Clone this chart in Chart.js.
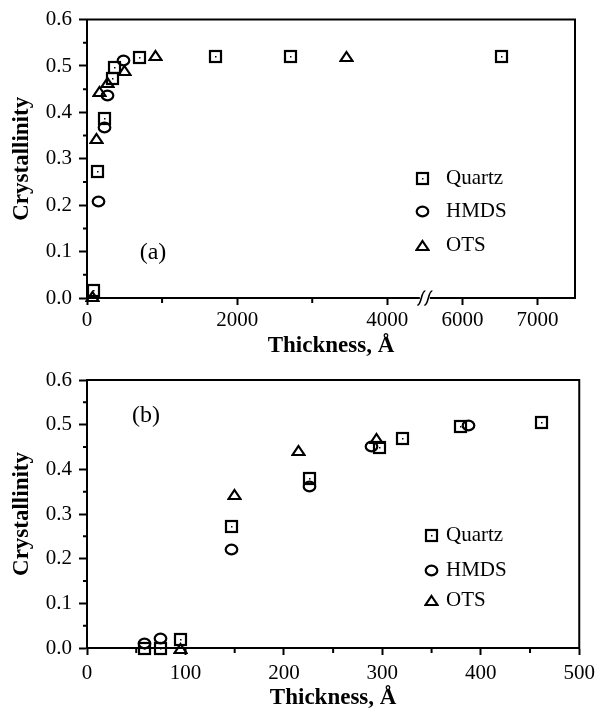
<!DOCTYPE html>
<html>
<head>
<meta charset="utf-8">
<script src="https://cdn.jsdelivr.net/npm/chart.js@4.4.0/dist/chart.umd.min.js"></script>
<style>
  body { margin: 0; background: #fff; }
  #wrap { position: relative; width: 601px; height: 710px; }
  canvas { position: absolute; left: 0; }
</style>
</head>
<body>
<div id="wrap">
  <canvas id="chartA" width="601" height="360" style="top:0"></canvas>
  <canvas id="chartB" width="601" height="355" style="top:355px"></canvas>
</div>
<script>
// panel (a) - full thickness range, values in Å
const quartzAX = [88, 141, 231, 341, 364, 697, 1711, 2711, 6520];
const quartzAY = [0.017, 0.272, 0.386, 0.472, 0.497, 0.519, 0.521, 0.52, 0.52];
const hmdsAX = [151, 231, 275, 488];
const hmdsAY = [0.207, 0.368, 0.437, 0.512];
const otsAX = [75, 120, 164, 275, 497, 907, 3453];
const otsAY = [0.003, 0.343, 0.444, 0.465, 0.49, 0.523, 0.52];

// panel (b) - first 500 Å
const quartzBX = [58, 75, 95, 147, 226, 297, 320, 379, 462];
const quartzBY = [0.0, 0.0, 0.02, 0.272, 0.38, 0.45, 0.47, 0.497, 0.505];
const hmdsBX = [58, 75, 147, 226, 289, 388];
const hmdsBY = [0.011, 0.021, 0.221, 0.362, 0.451, 0.498];
const otsBX = [95, 150, 215, 294];
const otsBY = [0.0, 0.343, 0.443, 0.468];

const seriesNames = ['Quartz', 'HMDS', 'OTS'];

const yTicks = [0, 0.1, 0.2, 0.3, 0.4, 0.5, 0.6];
const yMinor = [0.05, 0.15, 0.25, 0.35, 0.45, 0.55];
const xTicksA = [0, 2000, 4000, 6000, 7000];
const xMinorA = [1000, 3000];
const xTicksB = [0, 100, 200, 300, 400, 500];
const xMinorB = [50, 150, 250, 350, 450];

// broken x axis in panel (a): 4500..5500 is cut out
const BREAK_AT = 4500;
const BREAK_GAP = 1000;
const compress = v => (v > BREAK_AT ? v - BREAK_GAP : v);
const expand = v => (v > BREAK_AT ? v + BREAK_GAP : v);

const serif = '"Liberation Serif", "Times New Roman", serif';

function makeMarker(type) {
  const c = document.createElement('canvas');
  c.width = 15; c.height = 15;
  const g = c.getContext('2d');
  g.strokeStyle = '#000'; g.fillStyle = '#000'; g.lineWidth = 2.2;
  if (type === 'square') {
    g.strokeRect(2, 2, 11, 11);
    g.fillRect(7, 7, 1.5, 1.5);
  } else if (type === 'circle') {
    g.beginPath(); g.ellipse(7.5, 7.5, 5.8, 4.8, 0, 0, Math.PI * 2); g.stroke();
  } else {
    g.beginPath(); g.moveTo(7.5, 3); g.lineTo(13.5, 12); g.lineTo(1.5, 12); g.closePath(); g.stroke();
  }
  return c;
}
const markers = [makeMarker('square'), makeMarker('circle'), makeMarker('triangle')];

const pairs = (xs, ys, f) => xs.map((x, i) => ({x: f ? f(x) : x, y: ys[i]}));

function datasets(lists, f) {
  return lists.map((l, i) => ({
    label: seriesNames[i],
    data: pairs(l[0], l[1], f),
    pointStyle: markers[i],
    pointRadius: 6,
    showLine: false,
    clip: false
  }));
}

// frame, minor ticks, axis break, legend and panel tag
const decor = {
  id: 'decor',
  beforeDatasetsDraw(chart) {
    chart.ctx.imageSmoothingEnabled = false;
  },
  afterDatasetsDraw(chart, args, o) {
    const {ctx, chartArea: a, scales: {x, y}} = chart;
    ctx.imageSmoothingEnabled = true;
    ctx.save();
    ctx.strokeStyle = '#000';
    ctx.lineWidth = 2;
    ctx.beginPath();
    ctx.moveTo(a.left - 1, a.top); ctx.lineTo(a.right, a.top); ctx.lineTo(a.right, a.bottom + 1);
    ctx.stroke();

    ctx.beginPath();
    o.minorX.forEach(v => { const p = x.getPixelForValue(v); ctx.moveTo(p, a.bottom); ctx.lineTo(p, a.bottom + 5); });
    o.minorY.forEach(v => { const p = y.getPixelForValue(v); ctx.moveTo(a.left, p); ctx.lineTo(a.left - 4, p); });
    ctx.stroke();

    if (o.breakAt != null) {
      const p = x.getPixelForValue(o.breakAt);
      const b = a.bottom;
      ctx.fillStyle = '#fff';
      ctx.fillRect(p - 5, b - 2, 10, 4);
      ctx.lineWidth = 1.6;
      [-3.5, 3.5].forEach(d => {
        const c = p + d;
        ctx.beginPath();
        ctx.moveTo(c - 4, b + 7);
        ctx.bezierCurveTo(c, b + 8, c, b - 8, c + 4, b - 7);
        ctx.stroke();
      });
    }

    ctx.fillStyle = '#000';
    ctx.font = '21px ' + serif;
    ctx.textBaseline = 'middle';
    ctx.textAlign = 'left';
    o.legend.rows.forEach((ry, i) => {
      ctx.drawImage(markers[i], o.legend.mx - 7, ry - 7);
      ctx.fillText(seriesNames[i], o.legend.tx, ry);
    });

    ctx.font = '24px ' + serif;
    ctx.textAlign = 'center';
    ctx.fillText(o.tag.text, o.tag.x, o.tag.y);
    ctx.restore();
  }
};

function yAxis() {
  return {
    type: 'linear', min: 0, max: 0.6,
    afterBuildTicks: s => { s.ticks = yTicks.map(v => ({value: v})); },
    ticks: { callback: v => v.toFixed(1), color: '#000', font: {family: serif, size: 21}, padding: 7, autoSkip: false },
    grid: { drawOnChartArea: false, tickLength: 8, tickWidth: 2, tickColor: '#000' },
    border: { color: '#000', width: 2 },
    title: { display: true, text: 'Crystallinity', color: '#000',
             font: {family: serif, size: 23, weight: 'bold', lineHeight: 1}, padding: {top: 10.5, bottom: 0} },
    afterFit: s => { s.width = 87; }
  };
}

function xAxis(opts) {
  return {
    type: 'linear', min: opts.min, max: opts.max,
    afterBuildTicks: s => { s.ticks = opts.ticks.map(v => ({value: v})); },
    ticks: { callback: opts.label, color: '#000', font: {family: serif, size: 21},
             padding: opts.pad, maxRotation: 0, autoSkip: false },
    grid: { drawOnChartArea: false, tickLength: 7, tickWidth: 2, tickColor: '#000' },
    border: { color: '#000', width: 2 },
    title: { display: true, text: 'Thickness, Å', color: '#000',
             font: {family: serif, size: 23, weight: 'bold', lineHeight: 1}, padding: {top: 0, bottom: opts.tpad} },
    afterFit: s => { s.height = opts.h; }
  };
}

Chart.defaults.animation = false;

new Chart(document.getElementById('chartA'), {
  type: 'scatter',
  data: { datasets: datasets([[quartzAX, quartzAY], [hmdsAX, hmdsAY], [otsAX, otsAY]], compress) },
  options: {
    responsive: false,
    devicePixelRatio: 1,
    layout: { padding: {top: 19, right: 26, left: 0, bottom: 0} },
    scales: {
      x: xAxis({ min: 0, max: compress(7500), ticks: xTicksA.map(compress),
                 label: v => String(expand(v)), pad: 3, tpad: 2, h: 62 }),
      y: yAxis()
    },
    plugins: {
      legend: { display: false },
      tooltip: { enabled: false },
      decor: {
        minorX: xMinorA.map(compress), minorY: yMinor, breakAt: BREAK_AT,
        legend: { mx: 422, tx: 446, rows: [178, 211, 245] },
        tag: { text: '(a)', x: 153, y: 253 }
      }
    }
  },
  plugins: [decor]
});

new Chart(document.getElementById('chartB'), {
  type: 'scatter',
  data: { datasets: datasets([[quartzBX, quartzBY], [hmdsBX, hmdsBY], [otsBX, otsBY]]) },
  options: {
    responsive: false,
    devicePixelRatio: 1,
    layout: { padding: {top: 25, right: 17, left: 0, bottom: 0} },
    scales: {
      x: xAxis({ min: 0, max: 500, ticks: xTicksB, label: v => String(v), pad: 6, tpad: 0, h: 62 }),
      y: yAxis()
    },
    plugins: {
      legend: { display: false },
      tooltip: { enabled: false },
      decor: {
        minorX: xMinorB, minorY: yMinor, breakAt: null,
        legend: { mx: 431, tx: 446, rows: [180, 215, 245] },
        tag: { text: '(b)', x: 146, y: 61 }
      }
    }
  },
  plugins: [decor]
});
</script>
</body>
</html>
